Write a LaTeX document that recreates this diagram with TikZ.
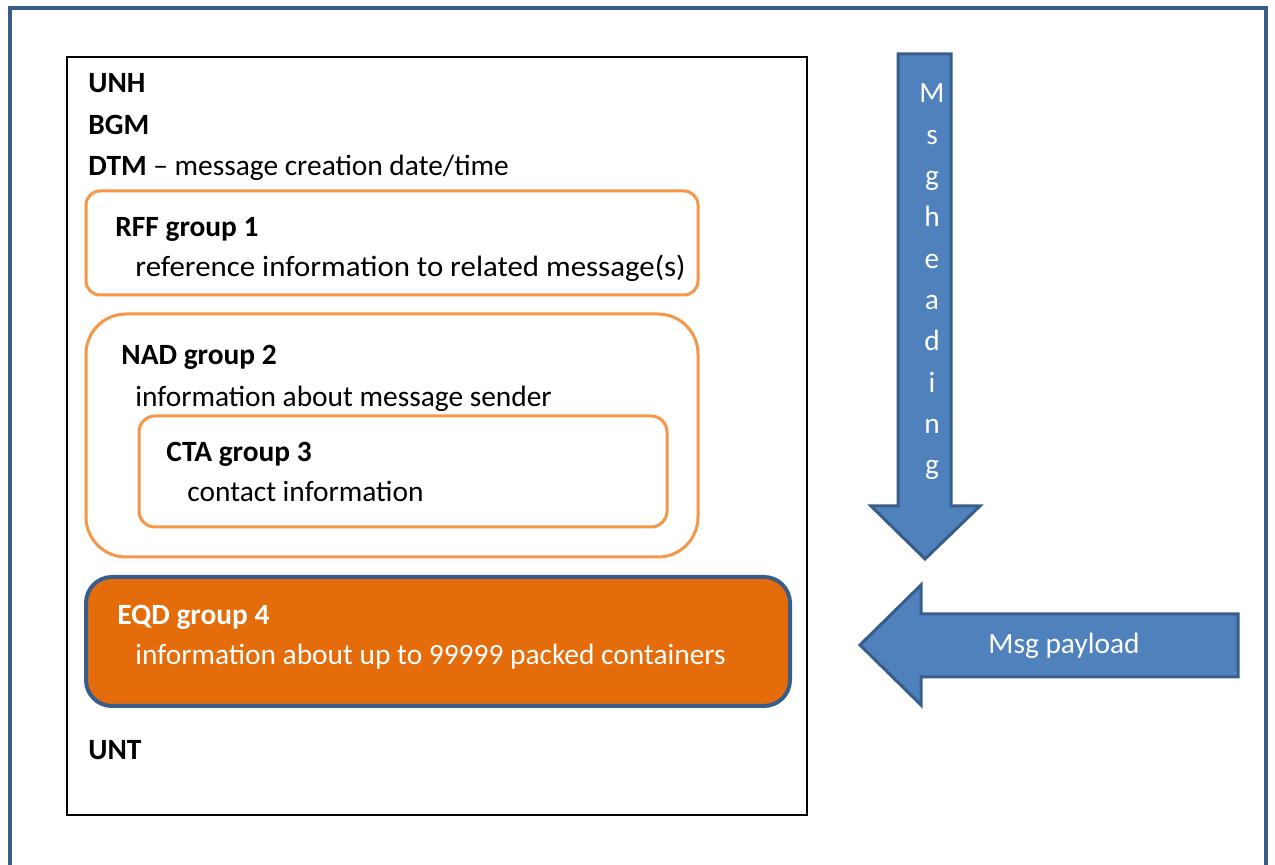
\documentclass[tikz,border=0pt]{standalone}
\usepackage{fontspec}
\setmainfont{Carlito}
\usetikzlibrary{calc}

\definecolor{frameblue}{HTML}{385D8A}
\definecolor{arrowblue}{HTML}{4F81BD}
\definecolor{grporange}{HTML}{F79646}
\definecolor{eqdorange}{HTML}{E46C0A}

\tikzset{
  seg/.style={anchor=base west,inner sep=0pt,font=\fontsize{14.7}{18}\selectfont},
  grpbox/.style={draw=grporange,line width=1.5pt},
  bigarrow/.style={fill=arrowblue,draw=frameblue,line width=1.5pt,line join=miter},
}

\begin{document}
\begin{tikzpicture}[x=0.5pt,y=-0.5pt]
	\useasboundingbox (0,0) rectangle (1275,865);

	%% outer frame (bottom edge is cut off)
	\draw[frameblue,line width=2pt] (10,870) -- (10,8) -- (1266,8) -- (1266,870);

	%% message box
	\draw[line width=0.6pt] (67,57) rectangle (807,815);

	%% segments on top
	\node[seg] (unh) at (88,93) {\textbf{UNH}};
	\node[seg] (bgm) at (88,135) {\textbf{BGM}};
	\node[seg] (dtm) at (88,176) {\textbf{DTM} -- message creation date/time};

	%% RFF group
	\draw[grpbox,rounded corners=7pt] (86,191) rectangle (698,295);
	\node[seg] (rff) at (115,237) {\textbf{RFF group 1}};
	\begin{scope}
		\clip (86,191) rectangle (698,281);
		\node[seg] (rffinfo) at (135,277) {\scalebox{1.05}[1]{reference information to related message(s)}};
	\end{scope}

	%% NAD group with CTA inside
	\draw[grpbox,rounded corners=20pt] (86,314) rectangle (698,557);
	\node[seg] (nad) at (121,365) {\textbf{NAD group 2}};
	\node[seg] (nadinfo) at (135,407) {information about message sender};
	\draw[grpbox,rounded corners=8pt] (139,416) rectangle (667,527);
	\node[seg] (cta) at (166,462) {\textbf{CTA group 3}};
	\node[seg] (ctainfo) at (187,502) {contact information};

	%% EQD group
	\draw[fill=eqdorange,draw=frameblue,line width=2pt,rounded corners=13pt] (86,577) rectangle (790,706);
	\node[seg,white] (eqd) at (117,625) {\textbf{EQD group 4}};
	\node[seg,white] (eqdinfo) at (135,665) {information about up to 99999 packed containers};

	\node[seg] (unt) at (88,760) {\textbf{UNT}};

	%% Msg heading arrow (down)
	\coordinate (H1) at (898,54);
	\coordinate (H2) at (951,54);
	\coordinate (H3) at (951,506);
	\coordinate (H4) at (980,506);
	\coordinate (H5) at (925,559);
	\coordinate (H6) at (871,506);
	\coordinate (H7) at (898,506);
	\draw[bigarrow] (H1) -- (H2) -- (H3) -- (H4) -- (H5) -- (H6) -- (H7) -- cycle;
	\foreach \ch [count=\i] in {M,s,g,h,e,a,d,i,n,g}
		\node[seg,anchor=base,white] (head\i) at (932,{103+41.3*(\i-1)}) {\ch};

	%% Msg payload arrow (left)
	\coordinate (P1) at (860,645);
	\coordinate (P2) at (921,585);
	\coordinate (P3) at (921,614);
	\coordinate (P4) at (1238,614);
	\coordinate (P5) at (1238,677);
	\coordinate (P6) at (921,677);
	\coordinate (P7) at (921,705);
	\draw[bigarrow] (P1) -- (P2) -- (P3) -- (P4) -- (P5) -- (P6) -- (P7) -- cycle;
	\node[seg,anchor=base,white] (payload) at (1064,654) {Msg payload};
\end{tikzpicture}
\end{document}
